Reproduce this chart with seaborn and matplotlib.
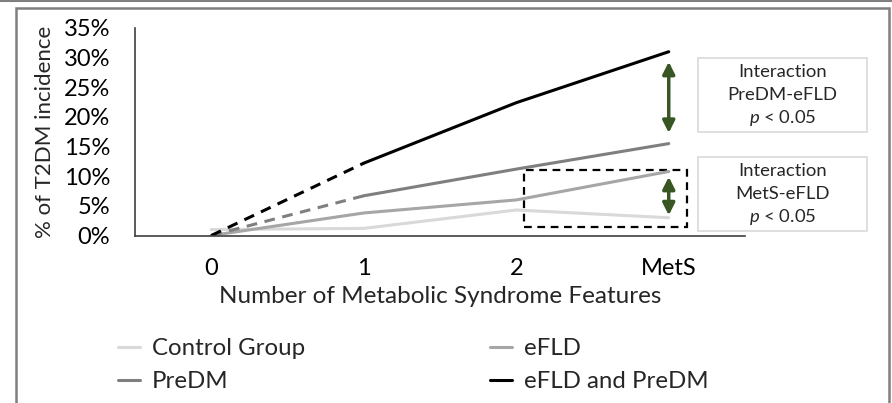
import numpy as np
import matplotlib
matplotlib.use("Agg")
import matplotlib.pyplot as plt
import seaborn as sns
import pandas as pd
from matplotlib.lines import Line2D
from matplotlib.patches import Rectangle

categories = ["0", "1", "2", "MetS"]
control = [1.0, 1.2, 4.3, 3.0]
efld = [0.0, 3.8, 6.0, 10.8]
predm = [0.0, 6.7, 11.2, 15.5]
efld_predm = [0.0, 12.2, 22.4, 31.0]
yticks = [0, 5, 10, 15, 20, 25, 30, 35]

series_names = ["Control Group", "eFLD", "PreDM", "eFLD and PreDM"]
colors = {"Control Group": "#d9d9d9", "eFLD": "#a6a6a6",
          "PreDM": "#7f7f7f", "eFLD and PreDM": "#000000"}

sns.set_theme(style="white")
plt.rcParams['font.family'] = ['Lato', 'DejaVu Sans']
plt.rcParams['mathtext.fontset'] = 'custom'
plt.rcParams['mathtext.it'] = 'Lato:italic'
plt.rcParams['mathtext.rm'] = 'Lato'

W, H = 892, 403
fig = plt.figure(figsize=(W / 100, H / 100), dpi=100)
ax = fig.add_axes([135 / W, 1 - 235.5 / H, (745 - 135) / W, (235.5 - 28) / H])

x = np.arange(len(categories))
rows = []
for name, vals in zip(series_names, [control, efld, predm, efld_predm]):
    for xi, v in zip(x, vals):
        rows.append({"x": xi, "y": v, "series": name})
df = pd.DataFrame(rows)

for name in series_names:
    d = df[df.series == name]
    if name in ("PreDM", "eFLD and PreDM"):
        sns.lineplot(data=d[d.x <= 1], x="x", y="y", color=colors[name], lw=2.2,
                     ax=ax, linestyle=(0, (3.5, 2.5)), legend=False)
        sns.lineplot(data=d[d.x >= 1], x="x", y="y", color=colors[name], lw=2.2,
                     ax=ax, legend=False)
    else:
        sns.lineplot(data=d, x="x", y="y", color=colors[name], lw=2.2, ax=ax,
                     legend=False)

ax.set_xlim(-0.5, 3.5)
ax.set_ylim(0, 35)
ax.set_xticks(x)
ax.set_xticklabels(categories)
ax.set_yticks(yticks)
ax.set_yticklabels([f"{t}%" for t in yticks])
ax.tick_params(axis="both", length=0, labelsize=17, colors="#000000")
ax.tick_params(axis="y", pad=18)
ax.tick_params(axis="x", pad=16)
ax.set_xlabel("Number of Metabolic Syndrome Features", fontsize=17.5, labelpad=5)
ax.set_ylabel("% of T2DM incidence", fontsize=16, labelpad=6)
for s in ["top", "right"]:
    ax.spines[s].set_visible(False)
for s in ["left", "bottom"]:
    ax.spines[s].set_color("#404040")
    ax.spines[s].set_linewidth(1.2)

green = "#375623"
ax.annotate("", xy=(3, 17.3), xytext=(3, 29.3),
            arrowprops=dict(arrowstyle="<|-|>,head_length=0.6,head_width=0.3",
                            color=green, lw=2.5, shrinkA=0, shrinkB=0))
ax.annotate("", xy=(3, 3.4), xytext=(3, 9.9),
            arrowprops=dict(arrowstyle="<|-|>,head_length=0.6,head_width=0.3",
                            color=green, lw=2.5, shrinkA=0, shrinkB=0))
ax.add_patch(Rectangle((2.05, 1.45), 1.07, 9.6, fill=False, ec="black",
                       lw=1.6, ls=(0, (3.5, 2.5)), clip_on=False))

# annotation boxes (figure pixel coords)
def fbox(x0, y0, x1, y1, lines):
    fig.patches.append(Rectangle((x0 / W, 1 - y1 / H), (x1 - x0) / W, (y1 - y0) / H,
                                 transform=fig.transFigure, fill=False,
                                 ec="#d9d9d9", lw=1.2))
    cx = (x0 + x1) / 2
    n = len(lines)
    step = 23
    ys = [(y0 + y1) / 2 + (i - (n - 1) / 2) * step for i in range(n)]
    for t, yy in zip(lines, ys):
        fig.text(cx / W, 1 - yy / H, t, ha="center", va="center", fontsize=13.3)

fbox(698, 58, 867, 132, ["Interaction", "PreDM-eFLD", "$p$ < 0.05"])
fbox(698, 157, 867, 231, ["Interaction", "MetS-eFLD", "$p$ < 0.05"])

# legends
def mk(name):
    return Line2D([], [], color=colors[name], lw=2.2)

kw = dict(loc="upper left", frameon=False, fontsize=17.3, handlelength=0.9,
          handletextpad=0.5, labelspacing=0.52, borderaxespad=0, borderpad=0)
leg1 = fig.legend([mk("Control Group"), mk("PreDM")], ["Control Group", "PreDM"],
                  bbox_to_anchor=(118 / W, 1 - 338 / H), **kw)
leg2 = fig.legend([mk("eFLD"), mk("eFLD and PreDM")], ["eFLD", "eFLD and PreDM"],
                  bbox_to_anchor=(490 / W, 1 - 338 / H), **kw)

# outer frame
fig.patches.append(Rectangle((16 / W, -0.05), (889 - 16) / W, 1.05 - 8 / H,
                             transform=fig.transFigure, fill=False,
                             ec="#7f7f7f", lw=1.8))
fig.lines.append(Line2D([0, 1], [1 - 1 / H, 1 - 1 / H], transform=fig.transFigure,
                        color="#7f7f7f", lw=1.5))

fig.savefig("out.png", dpi=100)
